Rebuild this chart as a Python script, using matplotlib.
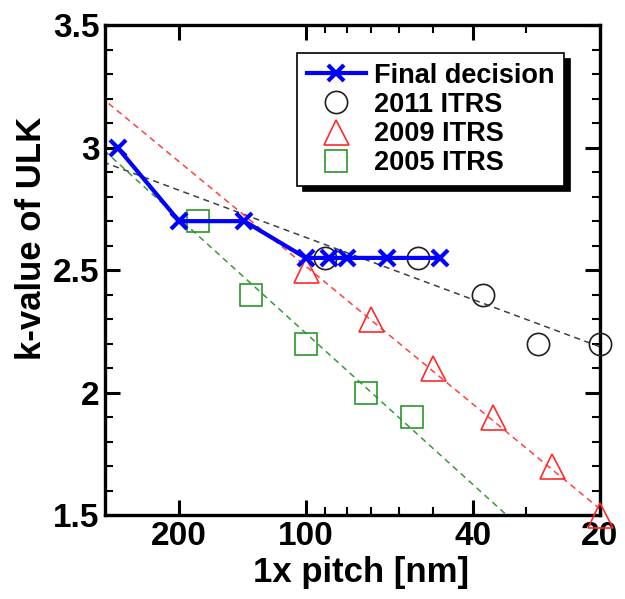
import numpy as np
import matplotlib
matplotlib.use("Agg")
import matplotlib.pyplot as plt
from matplotlib.ticker import FixedLocator, NullFormatter, MultipleLocator, FormatStrFormatter

plt.rcParams['font.family'] = ['Liberation Sans', 'DejaVu Sans']
plt.rcParams['font.weight'] = 'bold'

# data
final_x = [280, 200, 140, 100, 88, 80, 64, 48]
final_k = [3.0, 2.7, 2.7, 2.55, 2.55, 2.55, 2.55, 2.55]

itrs2011_x = [90, 54, 38, 28, 20]
itrs2011_k = [2.55, 2.55, 2.4, 2.2, 2.2]

itrs2009_x = [100, 70, 50, 36, 26, 20]
itrs2009_k = [2.5, 2.3, 2.1, 1.9, 1.7, 1.5]

itrs2005_x = [180, 135, 100, 72, 56]
itrs2005_k = [2.7, 2.4, 2.2, 2.0, 1.9]

major_x = [200, 100, 40, 20]
minor_x = [90, 80, 70, 60, 50, 30]

fig = plt.figure(figsize=(6.25, 5.99), dpi=100)
ax = fig.add_axes([0.168, 0.140, 0.792, 0.818])

# log-linear trend lines fitted to each ITRS set
xx = np.logspace(np.log10(20), np.log10(300), 50)
for xs, ks, c in [(itrs2011_x, itrs2011_k, '#404040'),
                  (itrs2009_x, itrs2009_k, '#ff4040'),
                  (itrs2005_x, itrs2005_k, '#3a9a3a')]:
    p = np.polyfit(np.log10(xs), ks, 1)
    ax.plot(xx, np.polyval(p, np.log10(xx)), '--', color=c, lw=1.1,
            dashes=(4, 3), zorder=2)

ax.plot(itrs2011_x, itrs2011_k, 'o', ms=16, mfc='none', mec='#202020', mew=1.2,
        label='2011 ITRS', zorder=3, clip_on=False)
ax.plot(itrs2009_x, itrs2009_k, '^', ms=18, mfc='none', mec='#ff2a2a', mew=1.2,
        label='2009 ITRS', zorder=3, clip_on=False)
ax.plot(itrs2005_x, itrs2005_k, 's', ms=16, mfc='none', mec='#2a962a', mew=1.2,
        label='2005 ITRS', zorder=3, clip_on=False)
ax.plot(final_x, final_k, '-x', color='#0000ff', lw=3, ms=12, mew=3,
        label='Final decision', zorder=4)

ax.set_xscale('log')
ax.set_xlim(300, 20)
ax.set_ylim(1.5, 3.5)

ax.xaxis.set_major_locator(FixedLocator(major_x))
ax.xaxis.set_major_formatter(FormatStrFormatter('%d'))
ax.xaxis.set_minor_locator(FixedLocator(minor_x))
ax.xaxis.set_minor_formatter(NullFormatter())
ax.yaxis.set_major_locator(MultipleLocator(0.5))
ax.yaxis.set_major_formatter(FormatStrFormatter('%g'))
ax.yaxis.set_minor_locator(MultipleLocator(0.1))

ax.tick_params(which='both', direction='in', top=True, right=True)
ax.tick_params(which='major', length=11, width=2.2, labelsize=24, pad=4)
ax.tick_params(which='minor', length=6, width=1.5)
for s in ax.spines.values():
    s.set_linewidth(2.4)

ax.set_xlabel('1x pitch [nm]', fontsize=25, fontweight='bold')
ax.set_ylabel('k-value of ULK', fontsize=25, fontweight='bold')
ax.xaxis.set_label_coords(0.517, -0.083)
ax.yaxis.set_label_coords(-0.115, 0.565)

h, l = ax.get_legend_handles_labels()
order = [3, 0, 1, 2]
leg = ax.legend([h[i] for i in order], [l[i] for i in order],
                loc='upper left', bbox_to_anchor=(0.388, 0.943),
                borderaxespad=0, fancybox=False, numpoints=1,
                prop={'size': 19.5, 'weight': 'bold'},
                handlelength=2.2, handletextpad=0.3, labelspacing=0.12,
                borderpad=0.35,
                shadow={'ox': 4, 'oy': -4, 'facecolor': 'black',
                        'edgecolor': 'black', 'alpha': 1})
leg.get_frame().set_edgecolor('black')
leg.get_frame().set_linewidth(1.2)

fig.savefig('out.png', dpi=100)
